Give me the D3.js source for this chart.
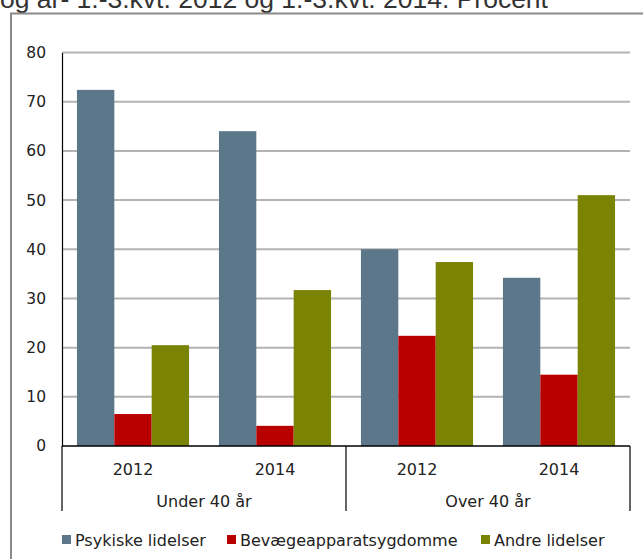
<!DOCTYPE html>
<html>
<head>
<meta charset="utf-8">
<script src="https://cdn.jsdelivr.net/npm/d3@7"></script>
<style>
  body { margin: 0; background: #fff; }
  svg { display: block; }
</style>
</head>
<body>
<div id="chartDiv"></div>
<script>
// values
var groups = ["Under 40 år", "Over 40 år"];
var years = ["2012", "2014"];
var seriesNames = ["Psykiske lidelser", "Bevægeapparatsygdomme", "Andre lidelser"];
var psykiske = [72.4, 64.0, 40.0, 34.2];
var bevaege = [6.5, 4.1, 22.4, 14.5];
var andre = [20.5, 31.7, 37.4, 51.0];
var yTicks = [0, 10, 20, 30, 40, 50, 60, 70, 80];
var colors = ["#5b7789", "#b90000", "#7b8302"];

var series = [psykiske, bevaege, andre];
var cats = [];
groups.forEach(function(g, gi) {
  years.forEach(function(y, yi) { cats.push({key: g + "|" + y, year: y, group: g, idx: gi * 2 + yi}); });
});

var font = "'DejaVu Sans', Verdana, sans-serif";

var svg = d3.select("#chartDiv").append("svg")
  .attr("width", 643).attr("height", 559);

var margin = {left: 62, right: 13, top: 52.5, bottom: 113};
var width = 643 - margin.left - margin.right,
    height = 559 - margin.top - margin.bottom;

// title text, cut off at top
svg.append("text")
  .attr("x", 0).attr("y", 8)
  .attr("font-family", "'Liberation Sans', Arial, sans-serif")
  .attr("font-size", 26.5)
  .attr("fill", "#333")
  .text("og år- 1.-3.kvt. 2012 og 1.-3.kvt. 2014. Procent");

// outer frame
svg.append("rect")
  .attr("x", 11).attr("y", 13.5)
  .attr("width", 700).attr("height", 600)
  .attr("fill", "none").attr("stroke", "#8a8a8a").attr("stroke-width", 2);

var g = svg.append("g").attr("transform", "translate(" + margin.left + "," + margin.top + ")");

var x0 = d3.scaleBand().domain(cats.map(function(d) { return d.key; })).range([0, width]).paddingInner(0).paddingOuter(0);
var x1 = d3.scaleBand().domain(d3.range(series.length)).range([0, x0.bandwidth()]).paddingOuter(0.4).paddingInner(0);
var y = d3.scaleLinear().domain([0, 80]).range([height, 0]);

// gridlines
g.append("g").selectAll("line").data(yTicks.slice(1)).enter().append("line")
  .attr("x1", 0).attr("x2", width)
  .attr("y1", function(d) { return y(d); }).attr("y2", function(d) { return y(d); })
  .attr("stroke", "#b3b3b3").attr("stroke-width", 2);

// bars
var cg = g.selectAll(".cat").data(cats).enter().append("g")
  .attr("transform", function(d) { return "translate(" + x0(d.key) + ",0)"; });

cg.selectAll("rect").data(function(d) {
  return series.map(function(s, si) { return {si: si, v: s[d.idx]}; });
}).enter().append("rect")
  .attr("x", function(d) { return x1(d.si); })
  .attr("width", x1.bandwidth())
  .attr("y", function(d) { return y(d.v); })
  .attr("height", function(d) { return height - y(d.v); })
  .attr("fill", function(d) { return colors[d.si]; });

// y axis
var yAxis = d3.axisLeft(y).tickValues(yTicks).tickSize(0).tickPadding(16);
var ya = g.append("g").call(yAxis);
ya.select(".domain").attr("stroke", "#000").attr("stroke-width", 1.2);
ya.selectAll("text")
  .attr("font-family", font)
  .attr("font-size", 15.5).attr("fill", "#222");

// x axis: zero line + years
var xa = g.append("g").attr("transform", "translate(0," + height + ")")
  .call(d3.axisBottom(x0).tickSize(0).tickPadding(0).tickFormat(function(k) { return k.split("|")[1]; }));
xa.select(".domain").remove();
xa.selectAll("text")
  .attr("dy", null).attr("y", 29)
  .attr("font-family", font)
  .attr("font-size", 16).attr("fill", "#222");

g.append("line").attr("x1", 0).attr("x2", width).attr("y1", height).attr("y2", height)
  .attr("stroke", "#000").attr("stroke-width", 1.5);

// group separators
var bounds = [0, x0(cats[2].key), width];
g.selectAll(".sep").data(bounds).enter().append("line")
  .attr("x1", function(d) { return d; }).attr("x2", function(d) { return d; })
  .attr("y1", height).attr("y2", height + 65)
  .attr("stroke", "#000").attr("stroke-width", 1.2);

g.selectAll(".grp").data(groups).enter().append("text")
  .attr("x", function(d, i) { return (bounds[i] + bounds[i + 1]) / 2; })
  .attr("y", height + 61)
  .attr("text-anchor", "middle")
  .attr("font-family", font)
  .attr("font-size", 16).attr("fill", "#222")
  .text(function(d) { return d; });

// legend
var legX = [62, 227, 481];
var leg = svg.append("g").selectAll("g").data(seriesNames).enter().append("g")
  .attr("transform", function(d, i) { return "translate(" + legX[i] + ",535)"; });
leg.append("rect").attr("width", 9).attr("height", 9).attr("fill", function(d, i) { return colors[i]; });
leg.append("text").attr("x", 13).attr("y", 11)
  .attr("font-family", font)
  .attr("font-size", 16).attr("fill", "#222")
  .text(function(d) { return d; });
</script>
</body>
</html>
